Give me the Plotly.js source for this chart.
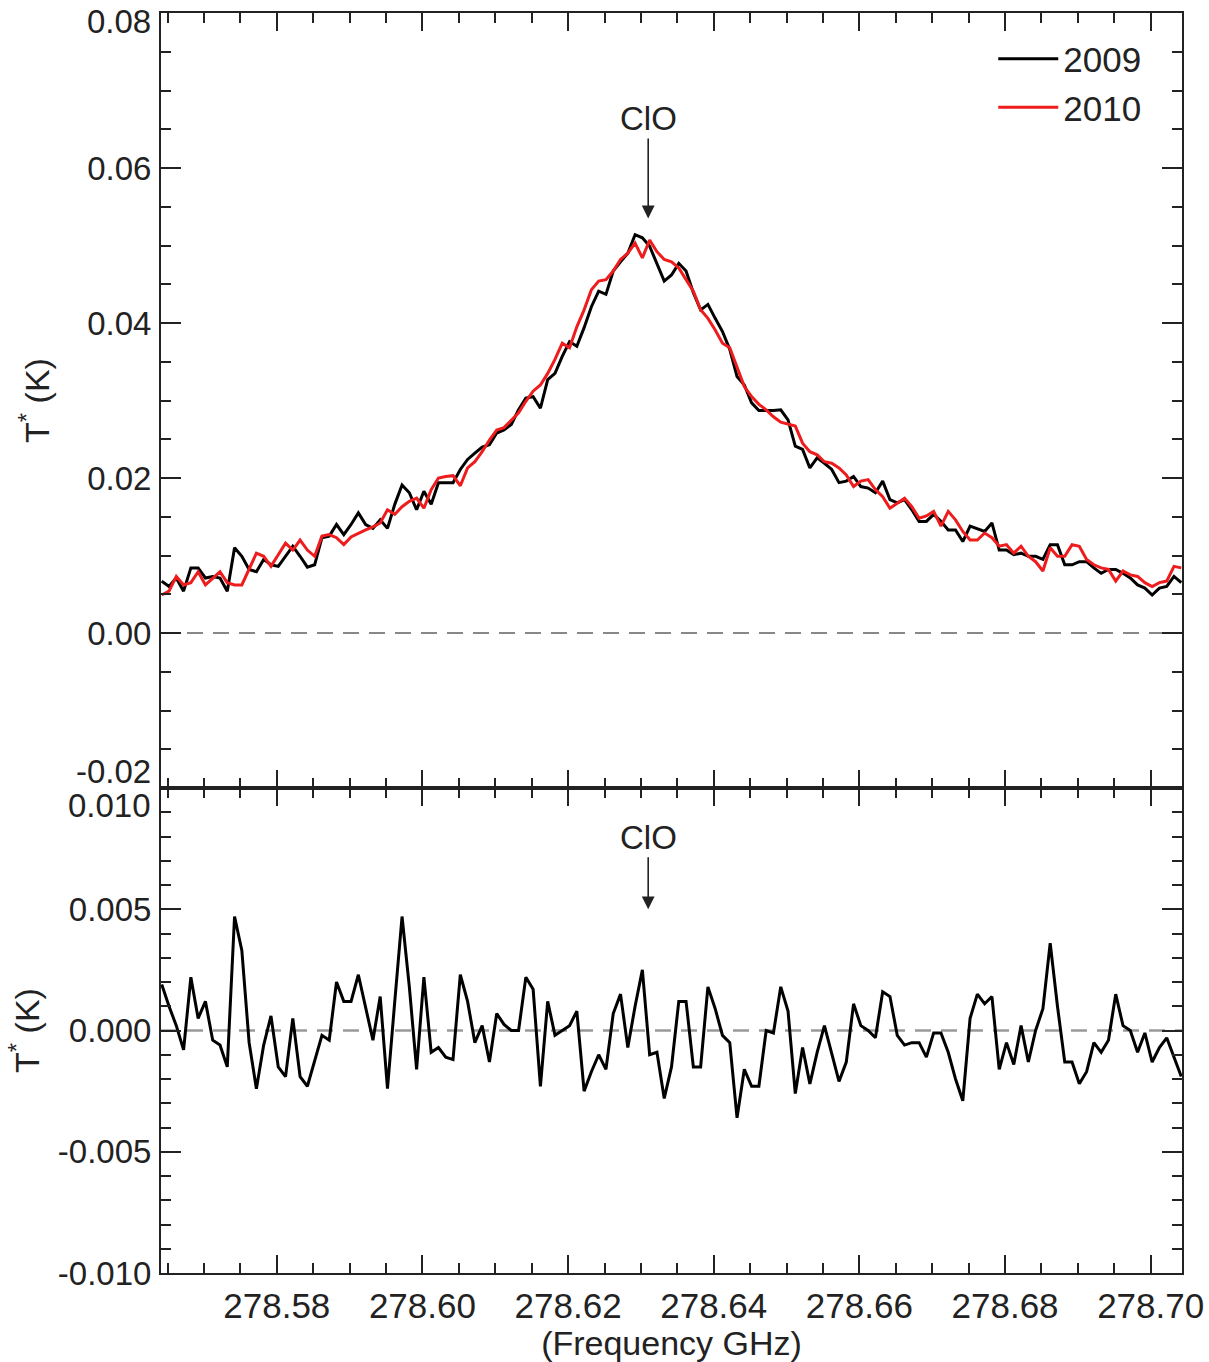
<!DOCTYPE html>
<html>
<head>
<meta charset="utf-8">
<script src="https://cdn.plot.ly/plotly-3.0.1.min.js"></script>
<style>html,body{margin:0;padding:0;background:#fff;}#chart{width:1209px;height:1362px;}</style>
</head>
<body>
<div id="chart"></div>
<script>
// Frequency grid (GHz): first channel and channel spacing
const freqStart = 278.5642;
const freqStep = 0.001;

// 2009 spectrum T* (K)
const spec2009 = [
0.0067,0.0060,0.0071,0.0054,0.0084,0.0084,0.0071,0.0073,0.0071,0.0054,
0.0110,0.0099,0.0082,0.0079,0.0095,0.0088,0.0086,0.0099,0.0112,0.0099,
0.0085,0.0088,0.0123,0.0125,0.0140,0.0127,0.0140,0.0155,0.0140,0.0135,
0.0146,0.0135,0.0166,0.0191,0.0181,0.0159,0.0183,0.0166,0.0194,0.0194,
0.0194,0.0211,0.0224,0.0232,0.0240,0.0243,0.0258,0.0262,0.0269,0.0288,
0.0303,0.0305,0.0290,0.0327,0.0335,0.0357,0.0376,0.0370,0.0394,0.0421,
0.0441,0.0437,0.0467,0.0479,0.0490,0.0514,0.0510,0.0499,0.0477,0.0454,
0.0462,0.0477,0.0467,0.0439,0.0417,0.0424,0.0406,0.0389,0.0366,0.0331,
0.0320,0.0297,0.0287,0.0287,0.0287,0.0288,0.0275,0.0241,0.0237,0.0213,
0.0226,0.0219,0.0211,0.0194,0.0196,0.0202,0.0189,0.0187,0.0181,0.0196,
0.0172,0.0168,0.0172,0.0159,0.0144,0.0144,0.0153,0.0144,0.0133,0.0133,
0.0118,0.0138,0.0135,0.0131,0.0142,0.0107,0.0107,0.0101,0.0103,0.0099,
0.0099,0.0095,0.0114,0.0114,0.0088,0.0088,0.0092,0.0092,0.0084,0.0077,
0.0082,0.0082,0.0077,0.0071,0.0062,0.0058,0.0049,0.0058,0.0060,0.0073,
0.0065];

// 2010 spectrum T* (K)
const spec2010 = [
0.0049,0.0054,0.0073,0.0062,0.0065,0.0079,0.0062,0.0071,0.0079,0.0065,
0.0062,0.0062,0.0082,0.0103,0.0099,0.0086,0.0101,0.0116,0.0107,0.0120,
0.0107,0.0099,0.0125,0.0127,0.0123,0.0114,0.0124,0.0129,0.0133,0.0137,
0.0142,0.0159,0.0153,0.0163,0.0170,0.0174,0.0161,0.0185,0.0200,0.0202,
0.0203,0.0190,0.0213,0.0221,0.0234,0.0249,0.0262,0.0265,0.0275,0.0284,
0.0299,0.0312,0.0320,0.0335,0.0353,0.0374,0.0368,0.0395,0.0417,0.0443,
0.0454,0.0456,0.0467,0.0482,0.0490,0.0503,0.0484,0.0507,0.0492,0.0482,
0.0479,0.0471,0.0456,0.0441,0.0417,0.0406,0.0391,0.0374,0.0368,0.0344,
0.0318,0.0305,0.0295,0.0288,0.0279,0.0272,0.0269,0.0267,0.0245,0.0234,
0.0230,0.0221,0.0219,0.0213,0.0204,0.0189,0.0196,0.0198,0.0185,0.0176,
0.0161,0.0168,0.0174,0.0163,0.0148,0.0151,0.0157,0.0138,0.0157,0.0146,
0.0131,0.0120,0.0120,0.0129,0.0123,0.0112,0.0114,0.0103,0.0112,0.0099,
0.0092,0.0080,0.0110,0.0099,0.0099,0.0114,0.0112,0.0095,0.0088,0.0084,
0.0082,0.0067,0.0080,0.0075,0.0073,0.0065,0.0060,0.0065,0.0067,0.0086,
0.0084];

// Residual T* (K)
const residual = [
0.0019,0.0010,0.0002,-0.0008,0.0022,0.0005,0.0012,-0.0004,-0.0006,-0.0015,
0.0047,0.0033,-0.0005,-0.0024,-0.0006,0.0006,-0.0015,-0.0019,0.0005,-0.0019,
-0.0023,-0.0012,-0.0002,-0.0004,0.0020,0.0012,0.0012,0.0023,0.0010,-0.0004,
0.0014,-0.0024,0.0012,0.0047,0.0018,-0.0016,0.0022,-0.0009,-0.0007,-0.0011,
-0.0012,0.0023,0.0012,-0.0005,0.0002,-0.0013,0.0007,0.00025,0.0000,0.0000,
0.0022,0.0017,-0.0023,0.0012,-0.0002,0.0000,0.0002,0.0008,-0.0025,-0.0017,
-0.0010,-0.0016,0.0007,0.0015,-0.0007,0.0010,0.0025,-0.0010,-0.0009,-0.0028,
-0.0015,0.0012,0.0012,-0.0015,-0.0015,0.0018,0.0009,-0.0002,-0.0005,-0.0036,
-0.0016,-0.0023,-0.0023,0.0000,-0.0001,0.0018,0.0008,-0.0026,-0.0007,-0.0022,
-0.0009,0.0002,-0.0009,-0.0021,-0.0013,0.0011,0.0002,0.0000,-0.0003,0.0016,
0.0014,-0.0002,-0.0006,-0.0005,-0.0005,-0.0011,-0.0001,-0.0001,-0.0009,-0.0020,
-0.0029,0.0005,0.0015,0.0011,0.0014,-0.0016,-0.0005,-0.0014,0.0002,-0.0013,
0.0000,0.0009,0.0036,0.0010,-0.0013,-0.0013,-0.0022,-0.0017,-0.0005,-0.0009,
-0.0004,0.0015,0.0002,0.0000,-0.0009,-0.0001,-0.0013,-0.0007,-0.0003,-0.0011,
-0.0019];

const seriesNames = ["2009", "2010"];
const lineName = "ClO";
const lineFreq = 278.631;

const xTickVals = [278.58, 278.60, 278.62, 278.64, 278.66, 278.68, 278.70];
const xTickText = ["278.58", "278.60", "278.62", "278.64", "278.66", "278.68", "278.70"];
// inner tick labels drawn by the axes
const yTopVals = [0.00, 0.02, 0.04, 0.06];
const yTopText = ["0.00", "0.02", "0.04", "0.06"];
const yBotVals = [-0.010, -0.005, 0.000, 0.005];
const yBotText = ["-0.010", "-0.005", "0.000", "0.005"];
// edge tick labels (shifted off the panel boundary, as in the original)
const yTopMax = 0.08, yTopMaxText = "0.08";
const yTopMin = -0.02, yTopMinText = "-0.02";
const yBotMax = 0.010, yBotMaxText = "0.010";

const FONT = "Liberation Sans, Arial, Helvetica, sans-serif";
const AX = "#222";
const TXT = "#222";

const traces = [
  {x0: freqStart, dx: freqStep, y: spec2009, type: "scatter", mode: "lines",
   name: seriesNames[0], line: {color: "#000000", width: 3}, xaxis: "x", yaxis: "y"},
  {x0: freqStart, dx: freqStep, y: spec2010, type: "scatter", mode: "lines",
   name: seriesNames[1], line: {color: "#ee1c1c", width: 3}, xaxis: "x", yaxis: "y"},
  {x0: freqStart, dx: freqStep, y: residual, type: "scatter", mode: "lines",
   showlegend: false, line: {color: "#000000", width: 3}, xaxis: "x2", yaxis: "y2"}
];

const xCommon = {
  range: [278.5641, 278.7043], tickmode: "array", tickvals: xTickVals, ticktext: xTickText,
  ticks: "inside", ticklen: 18, tickwidth: 2, tickcolor: AX,
  minor: {dtick: 0.005, tick0: 278.58, ticks: "inside", ticklen: 10, tickwidth: 2, tickcolor: AX},
  showline: true, linewidth: 2, linecolor: AX, mirror: "ticks",
  showgrid: false, zeroline: false,
  tickfont: {family: FONT, size: 35, color: TXT}
};
const yCommon = {
  ticks: "inside", ticklen: 20, tickwidth: 2, tickcolor: AX,
  showline: true, linewidth: 2, linecolor: AX, mirror: "ticks",
  showgrid: false, zeroline: false, tickmode: "array",
  tickfont: {family: FONT, size: 33, color: TXT}, ticklabelstandoff: 1
};

const split = 485 / 1260;

const edgeLabel = (yref, y, text, yanchor, yshift, h) => {
  const a = {
    xref: "paper", yref: yref, x: 0, y: y, text: text, showarrow: false,
    xanchor: "right", yanchor: yanchor, xshift: -8, yshift: yshift,
    font: {family: FONT, size: 33, color: TXT}
  };
  if (h) a.height = h;
  return a;
};

const layout = {
  width: 1209, height: 1362,
  margin: {l: 161, r: 27, t: 13, b: 89},
  paper_bgcolor: "#fff", plot_bgcolor: "#fff",
  showlegend: true,
  legend: {x: 0.965, xanchor: "right", y: 0.987, yanchor: "top",
           font: {family: FONT, size: 35, color: TXT}, bgcolor: "rgba(0,0,0,0)",
           tracegroupgap: 0, itemwidth: 60},
  xaxis: Object.assign({}, xCommon, {anchor: "y", showticklabels: false, matches: "x2"}),
  xaxis2: Object.assign({}, xCommon, {anchor: "y2", ticklabelstandoff: 1,
    title: {text: "(Frequency GHz)", font: {family: FONT, size: 34, color: TXT}, standoff: 2}}),
  yaxis: Object.assign({}, yCommon, {domain: [split, 1], anchor: "x", range: [-0.02, 0.08],
    tickvals: yTopVals, ticktext: yTopText,
    minor: {dtick: 0.005, ticks: "inside", ticklen: 10, tickwidth: 2, tickcolor: AX},
    title: {text: "T<sup>*</sup> (K)", font: {family: FONT, size: 34, color: TXT}, standoff: 27}}),
  yaxis2: Object.assign({}, yCommon, {domain: [0, split], anchor: "x2", range: [-0.010, 0.010],
    tickvals: yBotVals, ticktext: yBotText,
    minor: {dtick: 0.001, ticks: "inside", ticklen: 10, tickwidth: 2, tickcolor: AX},
    title: {text: "T<sup>*</sup> (K)", font: {family: FONT, size: 34, color: TXT}, standoff: 8}}),
  shapes: [
    {type: "line", xref: "x domain", yref: "y", x0: 0, x1: 1, y0: 0, y1: 0,
     line: {color: "#888", width: 2, dash: "16px,10px"}, layer: "below"},
    {type: "line", xref: "x2 domain", yref: "y2", x0: 0, x1: 1, y0: 0, y1: 0,
     line: {color: "#999", width: 2.5, dash: "16px,10px"}, layer: "below"}
  ],
  annotations: [
    {xref: "x", yref: "y", x: lineFreq, y: 0.0535, text: lineName, showarrow: true,
     ax: 0, ay: -100, arrowhead: 2, arrowsize: 1.6, arrowwidth: 1.6, arrowcolor: "#222",
     font: {family: FONT, size: 33, color: TXT}, standoff: 0},
    {xref: "x2", yref: "y2", x: lineFreq, y: 0.0050, text: lineName, showarrow: true,
     ax: 0, ay: -72, arrowhead: 2, arrowsize: 1.6, arrowwidth: 1.6, arrowcolor: "#222",
     font: {family: FONT, size: 33, color: TXT}, standoff: 0},
    edgeLabel("y", yTopMax, yTopMaxText, "top", 12),
    edgeLabel("y", yTopMin, yTopMinText, "bottom", 0, 30),
    edgeLabel("y2", yBotMax, yBotMaxText, "top", 0, 30)
  ]
};

Plotly.newPlot("chart", traces, layout, {staticPlot: true, displayModeBar: false});
</script>
</body>
</html>
